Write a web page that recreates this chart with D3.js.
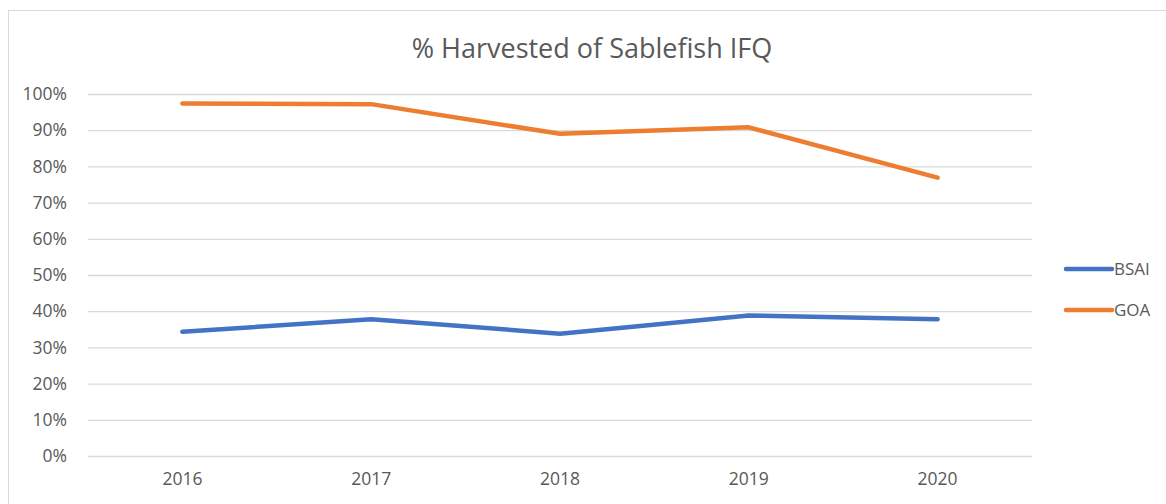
<!DOCTYPE html>
<html>
<head>
<meta charset="utf-8">
<title>% Harvested of Sablefish IFQ</title>
<script src="https://cdnjs.cloudflare.com/ajax/libs/d3/7.8.5/d3.min.js"></script>
<style>
body { margin: 0; background: #fff; }
text { font-family: "Open Sans", "Noto Sans", sans-serif; fill: #595959; }
.grid line { stroke: #d9d9d9; stroke-width: 1.3px; }
.grid .domain { display: none; }
.axis .domain, .axis line { display: none; }
</style>
</head>
<body>
<script>
var years = ["2016", "2017", "2018", "2019", "2020"];
var seriesNames = ["BSAI", "GOA"];
var bsai = [0.343, 0.378, 0.338, 0.388, 0.378];
var goa = [0.974, 0.972, 0.890, 0.908, 0.769];
var yTicks = [0, 0.1, 0.2, 0.3, 0.4, 0.5, 0.6, 0.7, 0.8, 0.9, 1.0];
var colors = ["#4472c4", "#ed7d31"];

var width = 1166,
    height = 504;

var svg = d3.select("body").append("svg")
    .attr("width", width)
    .attr("height", height);

// chart border, runs off the right and bottom
svg.append("rect")
    .attr("x", 8.5).attr("y", 10.5)
    .attr("width", 1200).attr("height", 600)
    .attr("fill", "#fff")
    .attr("stroke", "#d9d9d9");

var plotL = 88, plotR = 1032, plotT = 94, plotB = 456;

var x = d3.scaleBand().domain(years).range([plotL, plotR]);
var y = d3.scaleLinear().domain([0, 1]).range([plotB, plotT]);

svg.append("text")
    .attr("x", 592).attr("y", 58)
    .attr("text-anchor", "middle")
    .style("font-size", "27px")
    .text("% Harvested of Sablefish IFQ");

svg.append("g")
    .attr("class", "grid")
    .attr("transform", "translate(" + plotL + ",0)")
    .call(d3.axisLeft(y).tickValues(yTicks).tickSize(-(plotR - plotL)).tickFormat(""));

svg.append("g")
    .attr("class", "axis")
    .attr("transform", "translate(" + (plotL - 18) + ",0)")
    .call(d3.axisLeft(y).tickValues(yTicks).tickSize(0).tickFormat(d3.format(".0%")))
    .selectAll("text").style("font-size", "17.5px");

svg.append("g")
    .attr("class", "axis")
    .attr("transform", "translate(0," + (plotB + 14) + ")")
    .call(d3.axisBottom(x).tickSize(0))
    .selectAll("text").style("font-size", "17.5px");

var line = d3.line()
    .x(function(d, i) { return x(years[i]) + x.bandwidth() / 2; })
    .y(function(d) { return y(d); });

[bsai, goa].forEach(function(s, i) {
  svg.append("path")
      .datum(s)
      .attr("d", line)
      .attr("fill", "none")
      .attr("stroke", colors[i])
      .attr("stroke-width", 4.5)
      .attr("stroke-linecap", "round")
      .attr("stroke-linejoin", "round");
});

var legend = svg.append("g")
  .selectAll("g")
  .data(seriesNames)
  .enter().append("g")
    .attr("transform", function(d, i) { return "translate(1066," + (269 + i * 41) + ")"; });

legend.append("line")
    .attr("x1", 0).attr("x2", 46)
    .attr("stroke", function(d, i) { return colors[i]; })
    .attr("stroke-width", 4.5)
    .attr("stroke-linecap", "round");

legend.append("text")
    .attr("x", 48).attr("dy", "0.35em")
    .style("font-size", "17px")
    .text(function(d) { return d; });
</script>
</body>
</html>
